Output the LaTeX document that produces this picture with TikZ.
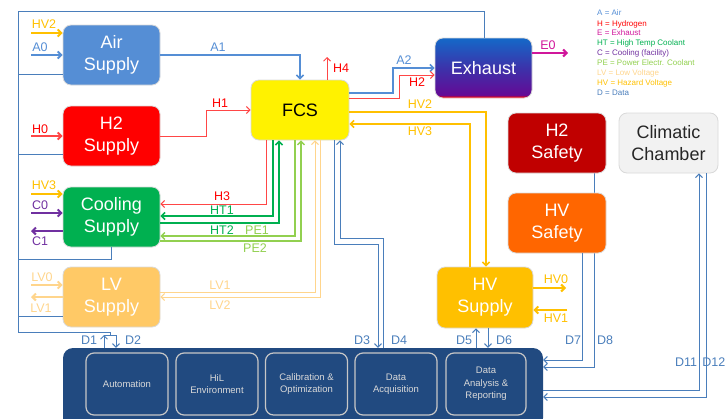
\documentclass[tikz,border=0pt]{standalone}
\usepackage{fontspec}
\setmainfont{Liberation Sans}
\usetikzlibrary{arrows.meta}
\pgfdeclarelayer{bg}
\pgfsetlayers{bg,main}
\definecolor{airblue}{RGB}{85,142,213}
\definecolor{dblue}{RGB}{74,126,187}
\definecolor{hred}{RGB}{255,70,70}
\definecolor{htgreen}{RGB}{0,176,80}
\definecolor{pegreen}{RGB}{146,208,80}
\definecolor{lvorange}{RGB}{255,213,140}
\definecolor{lvbox}{RGB}{255,201,102}
\definecolor{hvyellow}{RGB}{255,192,0}
\definecolor{cpurple}{RGB}{112,48,160}
\definecolor{emag}{RGB}{208,22,155}
\definecolor{dashblue}{RGB}{33,74,128}
\definecolor{exred}{RGB}{255,0,0}
\definecolor{expurple}{RGB}{100,10,150}
\definecolor{exmid}{RGB}{60,50,170}
\definecolor{exblue}{RGB}{20,105,200}
\definecolor{safered}{RGB}{192,0,0}
\definecolor{safeorange}{RGB}{255,102,0}
\definecolor{climgray}{RGB}{242,242,242}
\pgfdeclareverticalshading{exhshade}{100bp}{color(0bp)=(exred); color(25.5bp)=(exred); color(27.5bp)=(expurple); color(50bp)=(exmid); color(75bp)=(exblue); color(100bp)=(exblue)}
\tikzset{
  box/.style={rounded corners=8pt, minimum width=97pt, minimum height=60pt, inner sep=0pt,
    align=center, font=\fontsize{18}{22}\selectfont, text=white, draw=black!15, line width=0.8pt},
  inbox/.style={rounded corners=8pt, draw=black!22, line width=1.2pt, minimum width=82pt,
    minimum height=62pt, align=center, text=white!85!black, font=\fontsize{9.5}{12.5}\selectfont, inner sep=0pt},
  lab/.style={font=\fontsize{12.5}{13}\selectfont, inner sep=0pt},
  tip/.style={-{Straight Barb[length=3.5pt,width=7pt]}},
  aline/.style={draw=airblue, line width=1.6pt},
  hline/.style={draw=hred, line width=1pt},
  htline/.style={draw=htgreen, line width=1.6pt},
  peline/.style={draw=pegreen, line width=1.4pt},
  lvline/.style={draw=lvorange, line width=1pt},
  hvline/.style={draw=hvyellow, line width=1.6pt},
  dline/.style={draw=dblue, line width=1pt},
  inarrow/.style={tip, line width=2pt},
}
\begin{document}
\begin{tikzpicture}[x=1pt,y=-1pt]
\useasboundingbox (0,0) rectangle (726,418);
% ---------- boxes
\node[box,fill=airblue] (air) at (111.5,55) {Air\\Supply};
\node[box,fill=red] (h2s) at (111.5,136) {H2\\Supply};
\node[box,fill=htgreen] (cool) at (111.5,217) {Cooling\\Supply};
\node[box,fill=lvbox] (lv) at (111.5,297) {LV\\Supply};
\node[box,fill=yellow,text=black,minimum width=98pt] (fcs) at (300,110) {FCS};
\node[box,shading=exhshade] (exh) at (483.5,68) {Exhaust};
\node[box,fill=safered,minimum width=98pt] (h2saf) at (557,143) {H2\\Safety};
\node[box,fill=safeorange,minimum width=98pt] (hvsaf) at (557,223) {HV\\Safety};
\node[box,fill=climgray,text=black!85,minimum width=99pt] (clim) at (668.5,143) {Climatic\\Chamber};
\node[box,fill=hvyellow,minimum width=96pt,minimum height=61pt] (hvs) at (485,297.5) {HV\\Supply};
\node[fill=dashblue, rounded corners=10pt, minimum width=480pt, minimum height=80pt, inner sep=0pt] (dash) at (303,388) {};
\node[inbox] (auto) at (127,384) {Automation};
\node[inbox] (hil) at (217,384) {HiL\\Environment};
\node[inbox] (calib) at (306.5,384) {Calibration \&\\Optimization};
\node[inbox] (dacq) at (396,384) {Data\\Acquisition};
\node[inbox,minimum width=80pt] (dana) at (486,384) {Data\\Analysis \&\\Reporting};
% ---------- legend
\node[anchor=north west, inner sep=0pt, align=left, font=\fontsize{8}{10}\selectfont] (legend) at (597,10) {%
  \textcolor{airblue}{A = Air}\\
  \textcolor{red}{H = Hydrogen}\\
  \textcolor{emag}{E = Exhaust}\\
  \textcolor{htgreen}{HT = High Temp Coolant}\\
  \textcolor{cpurple}{C = Cooling (facility)}\\
  \textcolor{pegreen}{PE = Power Electr. Coolant}\\
  \textcolor{lvorange}{LV = Low Voltage}\\
  \textcolor{hvyellow}{HV = Hazard Voltage}\\
  \textcolor{dblue}{D = Data}};
% ---------- left inputs
\draw[hvline,inarrow] (31,33) -- (air.west |- 0,33);
\node[lab,text=hvyellow] (lHVa) at (44,24) {HV2};
\draw[aline,inarrow] (31,55) -- (air.west);
\node[lab,text=airblue] (lA0) at (40,47) {A0};
\draw[hline,inarrow] (31,136) -- (h2s.west);
\node[lab,text=red] (lH0) at (40,129) {H0};
\draw[hvline,inarrow] (31,194) -- (cool.west |- 0,194);
\node[lab,text=hvyellow] (lHVb) at (44,185) {HV3};
\draw[draw=cpurple,inarrow] (31,213) -- (cool.west |- 0,213);
\node[lab,text=cpurple] (lC0) at (40,205) {C0};
\draw[draw=cpurple,inarrow] (cool.west |- 0,231) -- (31,231);
\node[lab,text=cpurple] (lC1) at (40,241) {C1};
\draw[draw=lvorange,inarrow] (31,285) -- (lv.west |- 0,285);
\node[lab,text=lvorange] (lLV0) at (42,277) {LV0};
\draw[draw=lvorange,inarrow] (lv.west |- 0,297) -- (31,297);
\node[lab,text=lvorange] (lLV1a) at (41,308) {LV1};
% ---------- FCS top side
\draw[aline,tip] (air.east) -| (fcs.north);
\node[lab,text=airblue] (lA1) at (218,47) {A1};
\draw[hline,tip] (h2s.east) -- (206,136) |- (fcs.west);
\node[lab,text=red] (lH1) at (220,103) {H1};
\draw[hline,tip] (fcs.north -| 327,0) -- (327,57);
\node[lab,text=red] (lH4) at (341,68) {H4};
\draw[aline,tip] (fcs.east |- 0,93) -- (393,93) |- (exh.west);
\node[lab,text=airblue] (lA2) at (404,60) {A2};
\draw[hline,tip] (fcs.east |- 0,98) -- (399,98) |- (exh.west |- 0,75);
\node[lab,text=red] (lH2) at (417,82) {H2};
\draw[hvline,tip] (fcs.east |- 0,112) -| (hvs.north -| 486,0);
\node[lab,text=hvyellow] (lHV2) at (420,104) {HV2};
\draw[hvline,tip] (hvs.north -| 470,0) |- (fcs.east |- 0,124);
\node[lab,text=hvyellow] (lHV3) at (420,131) {HV3};
\draw[draw=emag,inarrow] (exh.east |- 0,53) -- (568,53);
\node[lab,text=emag] (lE0) at (548,45) {E0};
% ---------- FCS bottom side
\draw[hline,tip] (fcs.south -| 266,0) |- (cool.east |- 0,204);
\node[lab,text=red] (lH3) at (222,196) {H3};
\draw[htline,tip] (fcs.south -| 273,0) |- (cool.east |- 0,216);
\node[lab,text=htgreen] (lHT1) at (222,210) {HT1};
\draw[htline,tip] (cool.east |- 0,223) -| (fcs.south -| 279,0);
\node[lab,text=htgreen] (lHT2) at (222,230) {HT2};
\draw[peline,tip] (fcs.south -| 295,0) |- (cool.east |- 0,236);
\node[lab,text=pegreen] (lPE1) at (257,230) {PE1};
\draw[peline,tip] (cool.east |- 0,241) -| (fcs.south -| 301,0);
\node[lab,text=pegreen] (lPE2) at (255,248) {PE2};
\draw[lvline,tip] (lv.east |- 0,292) -| (fcs.south -| 315,0);
\node[lab,text=lvorange] (lLV1) at (220,285) {LV1};
\draw[lvline,tip] (fcs.south -| 320,0) |- (lv.east |- 0,297);
\node[lab,text=lvorange] (lLV2) at (220,305) {LV2};
\draw[dline,tip] (fcs.south -| 334,0) -- (334,244) -- (378,244) -- (dash.north -| 378,0);
\node[lab,text=dblue] (lD3) at (362,340) {D3};
\draw[dline,tip] (dash.north -| 383,0) -- (383,238) -- (340,238) -- (fcs.south -| 340,0);
\node[lab,text=dblue] (lD4) at (399,340) {D4};
% ---------- HV supply
\draw[dline,tip] (dash.north -| 476,0) -- (hvs.south -| 476,0);
\node[lab,text=dblue] (lD5) at (464,340) {D5};
\draw[dline,tip] (hvs.south -| 488,0) -- (dash.north -| 488,0);
\node[lab,text=dblue] (lD6) at (504,340) {D6};
\draw[hvline,inarrow] (hvs.east |- 0,288) -- (566,288);
\node[lab,text=hvyellow] (lHV0) at (556,279) {HV0};
\draw[hvline,inarrow] (567,310) -- (hvs.east |- 0,310);
\node[lab,text=hvyellow] (lHV1) at (556,318) {HV1};
% ---------- safety / climatic data lines
\draw[dline,tip] (hvsaf.south -| 582,0) |- (dash.east |- 0,360);
\node[lab,text=dblue] (lD7) at (573,340) {D7};
\begin{pgfonlayer}{bg}
\draw[dline,tip] (h2saf.south -| 594,0) |- (dash.east |- 0,367);
\end{pgfonlayer}
\node[lab,text=dblue] (lD8) at (605,340) {D8};
\draw[dline,tip] (dash.east |- 0,390) -| (clim.south -| 699,0);
\node[lab,text=dblue] (lD11) at (686,362) {D11};
\draw[dline,tip] (clim.south -| 706,0) |- (dash.east |- 0,397);
\node[lab,text=dblue,anchor=east] (lD12) at (725.5,362) {D12};
% ---------- left data bus
\draw[dline] (exh.north -| 484,0) -- (484,11) -| (18,332) -- (110,332) -- (110,335);
\draw[dline] (air.west |- 0,74) -- (18,74);
\draw[dline] (h2s.west |- 0,154) -- (18,154);
\draw[dline] (cool.south -| 111,0) |- (18,259);
\draw[dline] (lv.west |- 0,316) -- (18,316);
\draw[dline] (104,335) -- (116,335);
\draw[dline,tip] (dash.north -| 104,0) -- (104,335);
\draw[dline,tip] (116,335) -- (dash.north -| 116,0);
\node[lab,text=dblue] (lD1) at (89,340) {D1};
\node[lab,text=dblue] (lD2) at (133,340) {D2};
\end{tikzpicture}
\end{document}
